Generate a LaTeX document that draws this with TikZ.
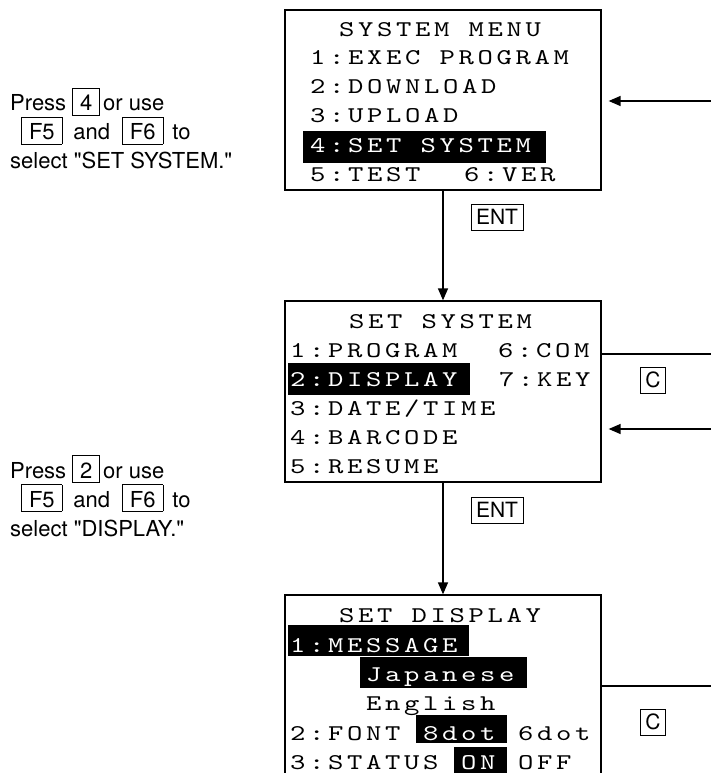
\documentclass[tikz,border=0pt]{standalone}
\usepackage{fontspec}
\setsansfont{TeX Gyre Heros}
\newfontfamily\lcdfont{lmmono10-regular}[Extension=.otf,FakeStretch=1.3,LetterSpace=16.2]
\usetikzlibrary{arrows.meta,positioning}
\newcommand{\lcd}{\lcdfont\fontsize{22.5pt}{24pt}\selectfont}
\newcommand{\notefont}{\sffamily\fontsize{22pt}{28pt}\selectfont}
\newcommand{\keyfont}{\sffamily\fontsize{21pt}{24pt}\selectfont}
\newcommand{\keybox}[1]{{\setlength{\fboxsep}{0pt}\setlength{\fboxrule}{0.8pt}\fbox{\rule[-4pt]{0pt}{26pt}\hspace{7pt}#1\hspace{7pt}}}}

\begin{document}
\begin{tikzpicture}[x=1pt,y=-1pt,
    screen/.style={draw,line width=1.3pt,inner sep=0pt,minimum width=316pt},
    lcd/.style={font=\lcd,anchor=base west,inner sep=0pt},
    lcdinv/.style={lcd,text=white},
    keycap/.style={draw,line width=0.8pt,font=\keyfont,inner xsep=5pt,inner ysep=0pt,minimum height=26pt},
    note/.style={font=\notefont,anchor=base west,inner sep=0pt},
    flow/.style={-{Triangle[length=12pt,width=10pt]},line width=1.4pt},
    back/.style={line width=1.2pt}]

  \useasboundingbox (0,0) rectangle (711,773);
  \clip (0,0) rectangle (711,773);

  % screens
  \node[screen,minimum height=180pt] (sysmenu) at (443,100) {};
  \node[screen,minimum height=181pt] (setsys) at (443,391.5) {};
  \node[screen,minimum height=200pt] (setdisp) at (443,695) {};

  % inverted fields
  \fill (303,131) rectangle (546,163);
  \fill (288,363) rectangle (470,395);
  \fill (288,625) rectangle (469,656);
  \fill (360,657) rectangle (527,688);
  \fill (416,715) rectangle (507,743);
  \fill (454,747) rectangle (507,780);

  % SYSTEM MENU
  \node[lcd] (sm0) at (339,37) {SYSTEM MENU};
  \node[lcd] (sm1) at (310,65) {1:EXEC PROGRAM};
  \node[lcd] (sm2) at (310,94) {2:DOWNLOAD};
  \node[lcd] (sm3) at (310,123) {3:UPLOAD};
  \node[lcdinv] (sm4) at (310,152) {4:SET SYSTEM};
  \node[lcd] (sm5) at (310,181) {5:TEST};
  \node[lcd] (sm5b) at (464,181) {6:VER};

  % SET SYSTEM
  \node[lcd] (ss0) at (349,328) {SET SYSTEM};
  \node[lcd] (ss1) at (290,357) {1:PROGRAM};
  \node[lcd] (ss1b) at (498,357) {6:COM};
  \node[lcdinv] (ss2) at (290,386) {2:DISPLAY};
  \node[lcd] (ss2b) at (499,386) {7:KEY};
  \node[lcd] (ss3) at (290,415) {3:DATE/TIME};
  \node[lcd] (ss4) at (290,444) {4:BARCODE};
  \node[lcd] (ss5) at (290,473) {5:RESUME};

  % SET DISPLAY
  \node[lcd] (sd0) at (339,622) {SET DISPLAY};
  \node[lcdinv] (sd1) at (290,652) {1:MESSAGE};
  \node[lcdinv] (sd2) at (366,681) {Japanese};
  \node[lcd] (sd3) at (366,710) {English};
  \node[lcd] (sd4) at (290,740) {2:FONT};
  \node[lcdinv] (sd4b) at (423,740) {8dot};
  \node[lcd] (sd4c) at (518,740) {6dot};
  \node[lcd] (sd5) at (290,769) {3:STATUS};
  \node[lcdinv] (sd5b) at (461,769) {ON};
  \node[lcd] (sd5c) at (518,769) {OFF};

  % notes
  \node[note] (n1a) at (10,111) {Press \keybox{4}\kern3pt or use};
  \node[note] (n1b) at (21,139.5) {\keybox{F5}\kern11pt and\kern12pt\keybox{F6}\kern9pt to};
  \node[note] (n1c) at (10,168) {select \textquotedbl SET SYSTEM.\textquotedbl};
  \node[note] (n2a) at (10,478) {Press \keybox{2}\kern3pt or use};
  \node[note] (n2b) at (21,507) {\keybox{F5}\kern11pt and\kern12pt\keybox{F6}\kern9pt to};
  \node[note] (n2c) at (10,536) {select \textquotedbl DISPLAY.\textquotedbl};

  % keys
  \node[keycap] (ent1) at (497,217) {ENT};
  \node[keycap] (ent2) at (497,510) {ENT};
  \node[keycap] (clr1) at (653,380) {C};
  \node[keycap] (clr2) at (653,722) {C};

  % flow
  \draw[flow] (sysmenu) -- (setsys);
  \draw[flow] (setsys) -- (setdisp);

  \coordinate (in1) at (711,101);
  \coordinate (in2) at (711,429);
  \coordinate (out2) at (711,354);
  \coordinate (out3) at (711,686);
  \draw[flow] (in1) -- ([xshift=7pt]in1 -| sysmenu.east);
  \draw[flow] (in2) -- ([xshift=7pt]in2 -| setsys.east);
  \draw[back] (setsys.east |- out2) -- (out2);
  \draw[back] (setdisp.east |- out3) -- (out3);
\end{tikzpicture}
\end{document}
